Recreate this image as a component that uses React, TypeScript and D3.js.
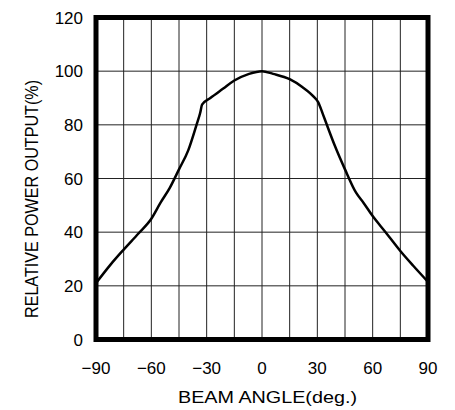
import { useEffect, useRef } from 'react';
import * as d3 from 'd3';

// beam profile
const angles = [-90, -82, -75, -67, -60, -55, -50, -45, -40, -35.5, -33.5, -32.5, -28, -21, -15, -7, 0, 6, 15, 22, 28, 30.5, 33, 35, 39.5, 45, 51, 55, 60, 67, 75, 82, 90];
const power = [21, 28, 33.5, 39.5, 45, 51, 56.5, 63.4, 70.5, 80, 84.5, 87.5, 90, 93.5, 96.5, 99, 100, 99, 97, 94, 90.5, 88.4, 84, 80.3, 72.2, 63.4, 54.7, 51, 46, 40, 33, 27.5, 21.5];

const xTicks = [-90, -60, -30, 0, 30, 60, 90];
const xGrid = d3.range(-90, 91, 15);
const yTicks = [0, 20, 40, 60, 80, 100, 120];

const FONT = '"Liberation Sans", Arial, sans-serif';

export default function App() {
  const svgRef = useRef<SVGSVGElement>(null);

  useEffect(() => {
    if (!svgRef.current) return;
    const width = 455;
    const height = 410;
    const left = 96;
    const right = 428;
    const top = 17.5;
    const bottom = 339.5;

    const svg = d3.select(svgRef.current);
    svg.selectAll('*').remove();
    svg.attr('width', width).attr('height', height);

    const x = d3.scaleLinear().domain([-90, 90]).range([left, right]);
    const y = d3.scaleLinear().domain([0, 120]).range([bottom, top]);

    svg.append('rect').attr('width', width).attr('height', height).attr('fill', '#fff');

    const grid = svg.append('g').attr('stroke', '#222').attr('stroke-width', 1);
    grid
      .selectAll('.vgrid')
      .data(xGrid)
      .enter()
      .append('line')
      .attr('x1', (d) => x(d))
      .attr('x2', (d) => x(d))
      .attr('y1', top)
      .attr('y2', bottom);
    grid
      .selectAll('.hgrid')
      .data(yTicks)
      .enter()
      .append('line')
      .attr('x1', left)
      .attr('x2', right)
      .attr('y1', (d) => y(d))
      .attr('y2', (d) => y(d));

    const pts = angles.map((a, i) => [a, power[i]] as [number, number]);
    const line = d3
      .line<[number, number]>()
      .x((d) => x(d[0]))
      .y((d) => y(d[1]))
      .curve(d3.curveMonotoneX);

    svg
      .append('path')
      .attr('d', line(pts)!)
      .attr('fill', 'none')
      .attr('stroke', '#000')
      .attr('stroke-width', 2.5)
      .attr('stroke-linejoin', 'round');

    svg
      .append('rect')
      .attr('x', left)
      .attr('y', top)
      .attr('width', right - left)
      .attr('height', bottom - top)
      .attr('fill', 'none')
      .attr('stroke', '#000')
      .attr('stroke-width', 5);

    svg
      .selectAll('.ylab')
      .data(yTicks)
      .enter()
      .append('text')
      .attr('x', 83)
      .attr('y', (d) => y(d))
      .attr('dy', '0.36em')
      .attr('text-anchor', 'end')
      .attr('font-family', FONT)
      .attr('font-size', 17)
      .text((d) => d);

    svg
      .selectAll('.xlab')
      .data(xTicks)
      .enter()
      .append('text')
      .attr('x', (d) => x(d))
      .attr('y', 373.5)
      .attr('text-anchor', 'middle')
      .attr('font-family', FONT)
      .attr('font-size', 17)
      .text((d) => (d < 0 ? '\u2212' + Math.abs(d) : String(d)));

    svg
      .append('text')
      .attr('x', 267.5)
      .attr('y', 403)
      .attr('text-anchor', 'middle')
      .attr('font-family', FONT)
      .attr('font-size', 17)
      .attr('textLength', 179)
      .attr('lengthAdjust', 'spacingAndGlyphs')
      .text('BEAM ANGLE(deg.)');

    svg
      .append('text')
      .attr('transform', 'translate(37.5,199) rotate(-90)')
      .attr('text-anchor', 'middle')
      .attr('font-family', FONT)
      .attr('font-size', 18)
      .attr('textLength', 238)
      .attr('lengthAdjust', 'spacingAndGlyphs')
      .text('RELATIVE POWER OUTPUT(%)');
  }, []);

  return (
    <svg
      ref={svgRef}
      style={{ position: 'absolute', left: 0, top: 0, display: 'block' }}
      role="img"
      aria-label="Relative power output by beam angle"
    />
  );
}
